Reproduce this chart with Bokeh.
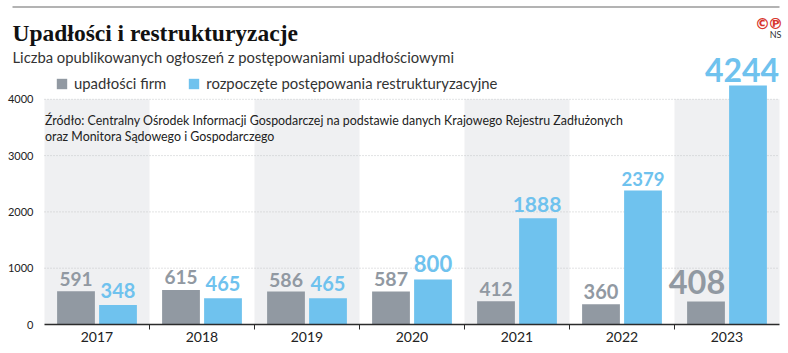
from bokeh.embed import file_html
from bokeh.resources import INLINE
from bokeh.plotting import figure
from bokeh.models import (ColumnDataSource, Label, Legend, LegendItem, FixedTicker)
from bokeh.core.properties import value

years = ["2017", "2018", "2019", "2020", "2021", "2022", "2023"]
bankruptcies = [591, 615, 586, 587, 412, 360, 408]
restructurings = [348, 465, 465, 800, 1888, 2379, 4244]
y_ticks = [0, 1000, 2000, 3000, 4000]
title_text = "Upadłości i restrukturyzacje"
subtitle_text = "Liczba opublikowanych ogłoszeń z postępowaniami upadłościowymi"
source_lines = ["Źródło: Centralny Ośrodek Informacji Gospodarczej na podstawie danych Krajowego Rejestru Zadłużonych",
                "oraz Monitora Sądowego i Gospodarczego"]
series_names = ["upadłości firm", "rozpoczęte postępowania restrukturyzacyjne"]

GRAY, BLUE, BAND, DARK = "#9199a2", "#6fc2ee", "#eff0f2", "#2b2b2b"
SANS = "Lato"
W, H = 788, 353
LEFT, BOTTOM, RIGHT = 44, 29, 9
PX_PER_1000 = 56.3
n = len(years)
band_px = (W - LEFT - RIGHT) / n

idx = list(range(n))
fh = H - BOTTOM

p = figure(width=W, height=H, output_backend="svg", toolbar_location=None,
           x_range=(-0.5 - LEFT / band_px, n - 0.5 + RIGHT / band_px),
           y_range=(-BOTTOM / PX_PER_1000 * 1000, fh / PX_PER_1000 * 1000),
           min_border_left=0, min_border_right=0, min_border_top=0, min_border_bottom=0,
           outline_line_color=None, background_fill_color="white", border_fill_color="white")

p.xgrid.visible = False
p.ygrid.visible = False

# alternating bands
even = [i for i in idx if i % 2 == 0]
p.quad(left=[i - 0.5 for i in even], right=[i + 0.5 for i in even], bottom=0, top=max(y_ticks),
       fill_color=BAND, line_color=None, level="underlay")
grid_y = y_ticks[1:]
p.segment(x0=[-0.5] * len(grid_y), x1=[n - 0.5] * len(grid_y), y0=grid_y, y1=grid_y,
          line_color="#c4c6c8", line_width=1, line_dash="1 2", level="underlay")

s1 = p.vbar(x=[i - 0.2 for i in idx], top=bankruptcies, width=0.36, fill_color=GRAY, line_color=None)
s2 = p.vbar(x=[i + 0.2 for i in idx], top=restructurings, width=0.36, fill_color=BLUE, line_color=None)

# value labels: sizes and nudges only, the positions come from the data
gray_sizes = ["19px", "19px", "19.5px", "19.5px", "19px", "20px", "32.5px"]
blue_sizes = ["20px", "20px", "20px", "22px", "21px", "18.5px", "32px"]
gray_dx = [0, 0, 0, 0, 0, 0, -9]
blue_dx = [0, 0, 0, 0, -1, 0, -6]
gray_dy = [-5, -6, -5, -5, -5, -5, -8]
blue_dy = [-7, -7, -7, -7, -6, -5, -4]
gray_src = ColumnDataSource(dict(x=[i - 0.2 for i in idx], y=bankruptcies, t=[str(v) for v in bankruptcies],
                                 s=gray_sizes, dx=gray_dx, dy=gray_dy))
blue_src = ColumnDataSource(dict(x=[i + 0.2 for i in idx], y=restructurings, t=[str(v) for v in restructurings],
                                 s=blue_sizes, dx=blue_dx, dy=blue_dy))
for src, col in ((gray_src, GRAY), (blue_src, BLUE)):
    p.text(x="x", y="y", text="t", source=src, text_color=col, text_font=value(SANS),
           text_font_style="bold", text_font_size="s", text_align="center",
           text_baseline="bottom", x_offset="dx", y_offset="dy")

# axes
ax = p.xaxis[0]
ax.fixed_location = 0
ax.bounds = (-0.5, n - 0.5)
ax.ticker = FixedTicker(ticks=idx, minor_ticks=[i + 0.5 for i in idx[:-1]])
ax.major_label_overrides = {i: y for i, y in zip(idx, years)}
ax.major_tick_line_color = None
ax.minor_tick_out = 5
ax.minor_tick_in = 0
ax.minor_tick_line_color = DARK
ax.minor_tick_line_width = 1
ax.axis_line_color = DARK
ax.axis_line_width = 1.5
ax.major_label_text_font = SANS
ax.major_label_text_font_size = "14px"
ax.major_label_text_color = "#222222"
ax.major_label_standoff = 1

ay = p.yaxis[0]
ay.fixed_location = -0.5
ay.ticker = FixedTicker(ticks=y_ticks)
ay.axis_line_color = None
ay.major_tick_line_color = None
ay.minor_tick_line_color = None
ay.major_label_text_font = SANS
ay.major_label_text_font_size = "11px"
ay.major_label_text_color = "#222222"
ay.major_label_standoff = 5

# legend
legend = Legend(items=[LegendItem(label=series_names[0], renderers=[s1]),
                       LegendItem(label=series_names[1], renderers=[s2])],
                orientation="horizontal", location=(55, H - 92),
                border_line_color=None, background_fill_alpha=0,
                glyph_width=13, glyph_height=13, spacing=21, padding=0, margin=0,
                label_standoff=6, label_text_font=SANS, label_text_font_size="14.85px",
                label_text_color="#333333")
p.add_layout(legend, "center")


def txt(text, x, y, size, color="#222222", font=SANS, style="normal", align="left"):
    # x and y are measured on the page from its top left corner
    p.add_layout(Label(x=x, y=H - y, x_units="screen", y_units="screen", text=text,
                       text_font=font, text_font_size=size, text_color=color, text_font_style=style,
                       text_align=align, text_baseline="alphabetic"))


txt(title_text, 12, 32, "23.5px", "#111111", "Liberation Serif", "bold")
txt(subtitle_text, 12, 56.5, "14.8px", "#333333")
txt(source_lines[0], 44.5, 120, "12.4px", "#222222", SANS, "normal")
txt(source_lines[1], 44.5, 136, "12.4px", "#222222", SANS, "normal")
txt("©", 762, 23, "15px", "#d8342c", "DejaVu Sans", "bold", align="center")
txt("℗", 775, 23, "15px", "#d8342c", "DejaVu Sans", "bold", align="center")
txt("NS", 781, 34, "9px", "#333333", SANS, align="right")

# top rule
rule_y = (fh - 6.5) / PX_PER_1000 * 1000
p.segment(x0=[(12 - LEFT) / band_px - 0.5], x1=[n - 0.5], y0=[rule_y], y1=[rule_y],
          line_color="#9a9a9a", line_width=1.5)

open("out.html", "w").write(file_html(p, INLINE))
